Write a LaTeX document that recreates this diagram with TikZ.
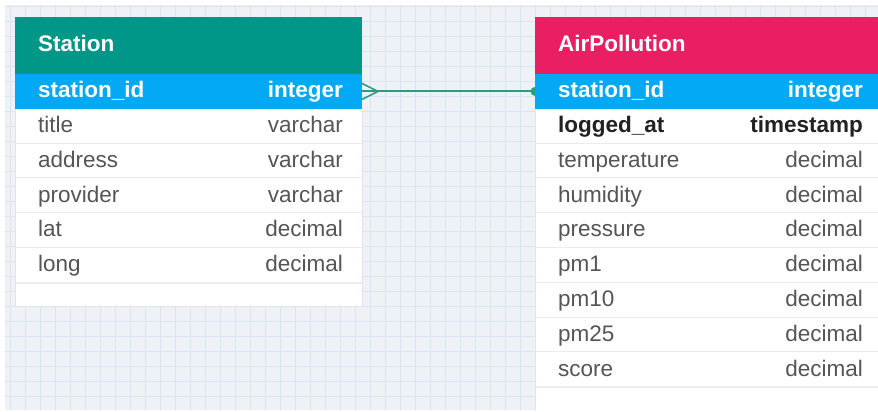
\documentclass[tikz,border=0pt]{standalone}
\usepackage{fontspec}
\setmainfont{Liberation Sans}
\definecolor{gridbg}{HTML}{EEF1F5}
\definecolor{gridln}{HTML}{DAE4F2}
\definecolor{hdrgreen}{HTML}{009688}
\definecolor{hdrpink}{HTML}{E91E63}
\definecolor{pkblue}{HTML}{03A9F4}
\definecolor{sepgrey}{HTML}{ECECEC}
\definecolor{edgegrey}{HTML}{E2E4E8}
\definecolor{txtgrey}{HTML}{555555}
\definecolor{txtdark}{HTML}{222222}
\definecolor{linkcol}{HTML}{2A9D80}
\pgfdeclarelayer{back}
\pgfdeclarelayer{mid}
\pgfsetlayers{back,mid,main}
\tikzset{
  cellbox/.style={rectangle, inner sep=0pt, outer sep=0pt, anchor=north west},
  hdrbox/.style={cellbox, minimum height=57pt},
  rowbox/.style={cellbox, minimum height=34.8pt, fill=white},
  keybox/.style={cellbox, minimum height=34.8pt, fill=pkblue},
  txt/.style={inner sep=0pt, font=\fontsize{22.5}{27}\selectfont},
  lname/.style={txt, anchor=base west},
  rtype/.style={txt, anchor=base east},
  hdrtxt/.style={lname, text=white, font=\fontsize{22.5}{27}\selectfont\bfseries},
  keytxt/.style={text=white, font=\fontsize{22.5}{27}\selectfont\bfseries},
  plaintxt/.style={text=txtgrey},
  boldtxt/.style={text=txtdark, font=\fontsize{22.5}{27}\selectfont\bfseries},
  sepline/.style={draw=sepgrey, line width=2pt},
  gridline/.style={draw=gridln, line width=0.9pt},
  link/.style={draw=linkcol, line width=2pt},
  crow/.style={draw=linkcol, line width=1.6pt, line join=round},
}
\begin{document}
\begin{tikzpicture}[x=1pt,y=-1pt]
\useasboundingbox (0,0) rectangle (878,412);
\begin{pgfonlayer}{back}
  \fill[white] (0,0) rectangle (878,412);
  \fill[gridbg] (5,5) rectangle (878,410);
  \foreach \gx in {10,25,...,875} \draw[gridline] (\gx,5) -- (\gx,410);
  \foreach \gy in {6,21,...,409} \draw[gridline] (5,\gy) -- (878,\gy);
\end{pgfonlayer}

% ---------- Station table ----------
\node[hdrbox, fill=hdrgreen, minimum width=347pt] (sh) at (15,17) {};
\node[hdrtxt] (shT) at (38,51.7) {Station};
\node[rowbox, minimum width=347pt, minimum height=24pt, draw=edgegrey, line width=0.8pt] (sEnd) at (15,282.8) {};
\node[keybox, minimum width=347pt] (s0) at (15,74) {};
\node[lname, keytxt] (s0n) at (38,97.7) {station\_id};
\node[rtype, keytxt] (s0t) at (343,97.7) {integer};
\foreach \nm/\ty [count=\i from 1] in {title/varchar,address/varchar,provider/varchar,lat/decimal,long/decimal}{
  \node[rowbox, minimum width=347pt] (s\i) at (15,{74+34.8*\i}) {};
  \draw[sepline] (s\i.south west) -- (s\i.south east);
  \node[lname, plaintxt] (s\i n) at (38,{74+34.8*\i+23.7}) {\nm};
  \node[rtype, plaintxt] (s\i t) at (343,{74+34.8*\i+23.7}) {\ty};
}
\draw[edgegrey, line width=0.8pt] (s0.south west) -- (sEnd.north west) (s0.south east) -- (sEnd.north east);

% ---------- AirPollution table ----------
\node[hdrbox, fill=hdrpink, minimum width=345pt] (ah) at (535,17) {};
\node[hdrtxt] (ahT) at (558,51.7) {AirPollution};
\node[rowbox, minimum width=345pt, minimum height=24pt] (aEnd) at (535,387.2) {};
\node[keybox, minimum width=345pt] (a0) at (535,74) {};
\node[lname, keytxt] (a0n) at (558,97.7) {station\_id};
\node[rtype, keytxt] (a0t) at (863,97.7) {integer};
\node[rowbox, minimum width=345pt] (a1) at (535,108.8) {};
\draw[sepline] (a1.south west) -- (a1.south east);
\node[lname, boldtxt] (a1n) at (558,132.5) {logged\_at};
\node[rtype, boldtxt] (a1t) at (863,132.5) {timestamp};
\foreach \nm/\ty [count=\i from 2] in {temperature/decimal,humidity/decimal,pressure/decimal,pm1/decimal,pm10/decimal,pm25/decimal,score/decimal}{
  \node[rowbox, minimum width=345pt] (a\i) at (535,{74+34.8*\i}) {};
  \draw[sepline] (a\i.south west) -- (a\i.south east);
  \node[lname, plaintxt] (a\i n) at (558,{74+34.8*\i+23.7}) {\nm};
  \node[rtype, plaintxt] (a\i t) at (863,{74+34.8*\i+23.7}) {\ty};
}
\draw[edgegrey, line width=0.8pt] (a0.south west) -- (aEnd.south west);

% ---------- relationship ----------
\begin{pgfonlayer}{mid}
  \draw[link] (s0.east) -- (a0.west);
  \draw[crow] ([yshift=-8pt]s0.east) -- ([xshift=16pt]s0.east) -- ([yshift=8pt]s0.east);
  \fill[linkcol] (a0.west) circle (4.5pt);
\end{pgfonlayer}
\end{tikzpicture}
\end{document}
